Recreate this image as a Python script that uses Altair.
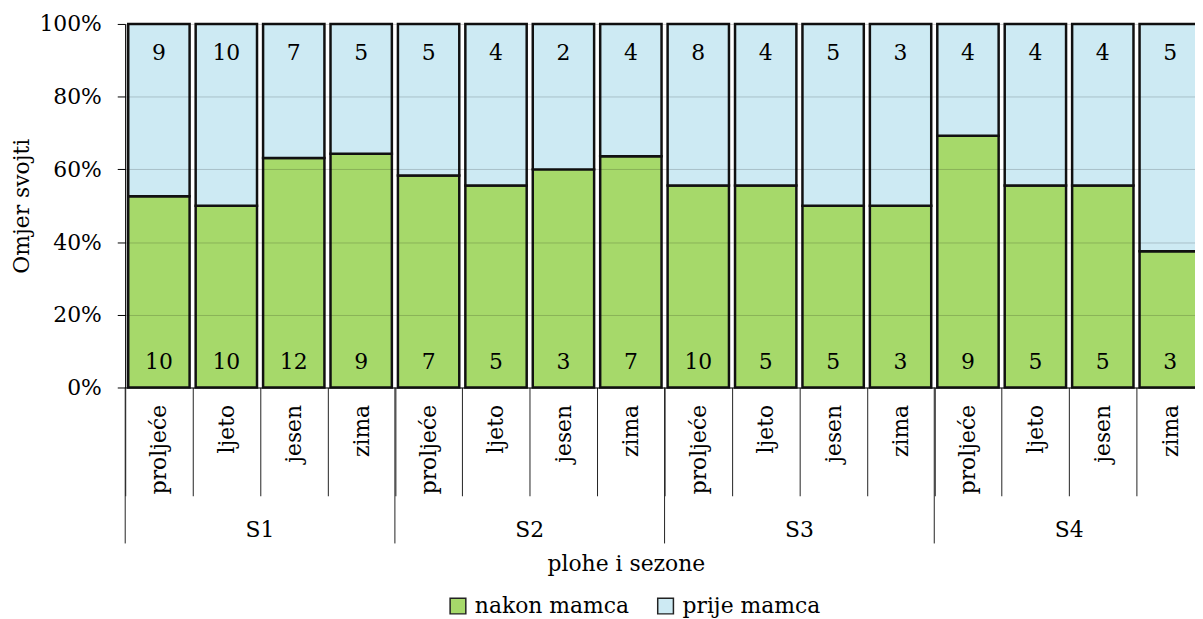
import altair as alt
import pandas as pd

FONT = "DejaVu Serif"
FS = 22

plots = ["S1", "S2", "S3", "S4"]
seasons = ["proljeće", "ljeto", "jesen", "zima"]
nakon = [10, 10, 12, 9, 7, 5, 3, 7, 10, 5, 5, 3, 9, 5, 5, 3]
prije = [9, 10, 7, 5, 5, 4, 2, 4, 8, 4, 5, 3, 4, 4, 4, 5]
series = ["nakon mamca", "prije mamca"]
colors = ["#A6D96A", "#CDEAF3"]

rows, keys = [], []
for gi, p in enumerate(plots):
    for si, s in enumerate(seasons):
        k = f"{p}·{s}"
        keys.append(k)
        i = gi * 4 + si
        rows.append(dict(key=k, plot=p, series=series[0], n=nakon[i], ord=0))
        rows.append(dict(key=k, plot=p, series=series[1], n=prije[i], ord=1))
df = pd.DataFrame(rows)

groups = pd.DataFrame({
    "plot": plots,
    "first": [keys[g * 4] for g in range(4)],
    "mid": [keys[g * 4 + 2] for g in range(4)],
})

xscale = alt.Scale(domain=keys, paddingInner=0, paddingOuter=0, rangeMin=0, rangeMax=1086)

xaxis = alt.Axis(
    title="plohe i sezone", titleFont=FONT, titleFontSize=FS, titleFontWeight="normal",
    titleColor="#000", titleX=504, titleY=177, titleBaseline="middle", titleAlign="center",
    labelExpr="split(datum.value, '·')[1]", labelAngle=270, labelAlign="right",
    labelBaseline="middle", labelPadding=-92, labelFont=FONT, labelFontSize=FS,
    labelColor="#000", tickBand="extent", tickSize=109, tickColor="#222",
    tickWidth=1, domainColor="#000", domainWidth=1.2, labelOverlap=False,
)

yaxis = alt.Axis(
    title="Omjer svojti", titleFont=FONT, titleFontSize=FS, titleFontWeight="normal",
    titleColor="#000", titleX=-104, titleY=183, titleAngle=270, titleAlign="center",
    titleBaseline="middle",
    values=[0, 0.2, 0.4, 0.6, 0.8, 1.0], format=".0%", labelFont=FONT,
    labelFontSize=FS, labelColor="#000", labelPadding=16, tickSize=8, tickColor="#000",
    domainColor="#000", domainWidth=1.2, gridColor="#000", gridOpacity=0.18, zindex=1,
)

base = alt.Chart(df)

bars = base.mark_bar(width=alt.RelativeBandSize(0.91), stroke="#111", strokeWidth=2.5).encode(
    x=alt.X("key:N", sort=keys, scale=xscale, axis=xaxis),
    y=alt.Y("n:Q", stack="normalize", axis=yaxis, scale=alt.Scale(domain=[0, 1], nice=False)),
    color=alt.Color(
        "series:N",
        scale=alt.Scale(domain=series, range=colors),
        legend=alt.Legend(
            title=None, orient="none", legendX=324, legendY=575, direction="horizontal",
            symbolType="square", symbolSize=250, symbolStrokeColor="#222",
            symbolStrokeWidth=1.5, labelFont=FONT, labelFontSize=FS, labelColor="#000",
            columnPadding=25, labelOffset=6,
        ),
    ),
    order=alt.Order("ord:Q"),
)

top_labels = base.transform_filter(alt.datum.series == series[1]).mark_text(
    dy=29, font=FONT, fontSize=FS, color="#000", baseline="middle"
).encode(x=alt.X("key:N", sort=keys), y=alt.datum(1), text="n:Q")

bottom_labels = base.transform_filter(alt.datum.series == series[0]).mark_text(
    dy=-26, font=FONT, fontSize=FS, color="#000", baseline="middle"
).encode(x=alt.X("key:N", sort=keys), y=alt.datum(0), text="n:Q")

gbase = alt.Chart(groups)
group_rules = gbase.mark_rule(color="#222", strokeWidth=1).encode(
    x=alt.X("first:N", bandPosition=0), y=alt.value(366), y2=alt.value(523)
)
group_text = gbase.mark_text(font=FONT, fontSize=FS, color="#000", baseline="middle").encode(
    x=alt.X("mid:N", bandPosition=0), y=alt.value(510), text="plot:N"
)

chart = alt.layer(bars, top_labels, bottom_labels, group_rules, group_text).properties(
    width=1077, height=366,
    autosize=alt.AutoSizeParams(type="none"),
    padding={"left": 118, "top": 14, "right": 0, "bottom": 230},
).configure_view(stroke=None)

chart.save("out.html", embed_options={"renderer": "svg", "actions": False})
